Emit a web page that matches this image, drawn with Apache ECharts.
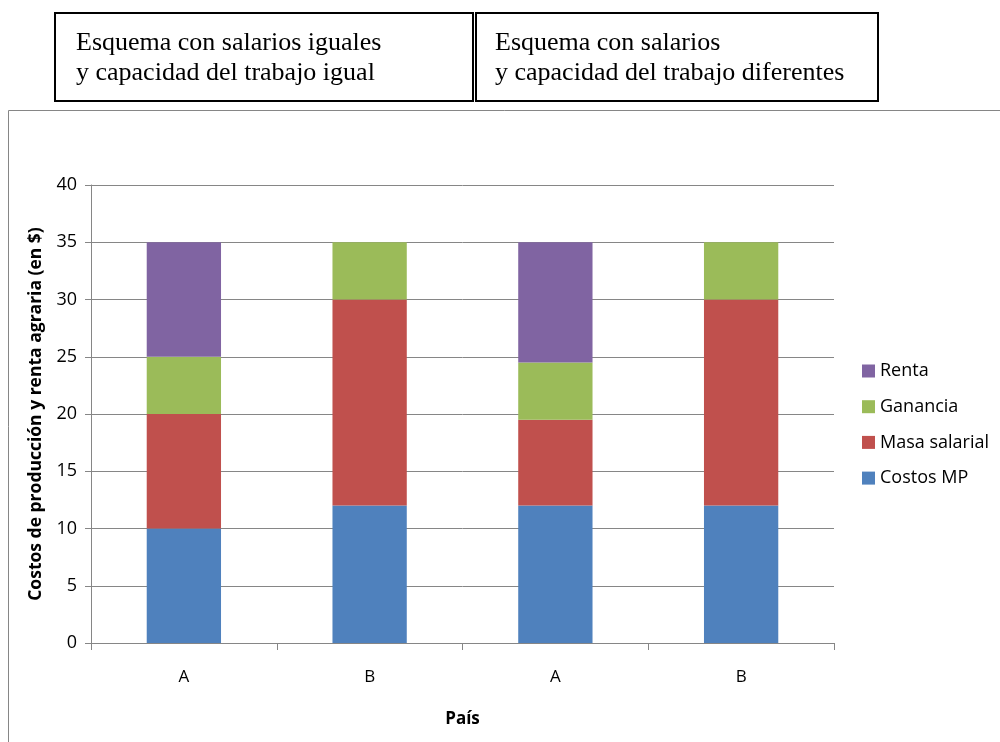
<!DOCTYPE html>
<html>
<head>
<meta charset="utf-8">
<script src="https://cdn.jsdelivr.net/npm/echarts@6/dist/echarts.min.js"></script>
<style>
  html, body { margin: 0; padding: 0; background: #fff; }
  #chart { width: 1000px; height: 742px; }
</style>
</head>
<body>
<div id="chart"></div>
<script>
// Countries in each scheme (first pair: equal wages, second pair: different wages)
const categories = ['A', 'B', 'A', 'B'];
const costosMP = [10, 12, 12, 12];
const masaSalarial = [10, 18, 7.5, 18];
const ganancia = [5, 5, 5, 5];
const renta = [10, 0, 10.5, 0];
const yTicks = { min: 0, max: 40, interval: 5 };

const uiFont = '"Open Sans", "Liberation Sans", sans-serif';
const serifFont = '"Liberation Serif", "DejaVu Serif", serif';

const chart = echarts.init(document.getElementById('chart'), null, { renderer: 'canvas' });

function seriesOf(name, data, color) {
  return {
    name: name,
    type: 'bar',
    stack: 'total',
    barWidth: '40%',
    data: data,
    itemStyle: { color: color },
    emphasis: { disabled: true }
  };
}

chart.setOption({
  animation: false,
  backgroundColor: '#fff',
  textStyle: { fontFamily: uiFont },
  grid: { left: 91, top: 185, width: 743, height: 458, containLabel: false },
  legend: {
    orient: 'vertical',
    left: 857,
    top: 357,
    itemWidth: 13,
    itemHeight: 13,
    itemGap: 17.7,
    icon: 'rect',
    textStyle: { fontSize: 18, color: '#000', fontFamily: uiFont },
    data: ['Renta', 'Ganancia', 'Masa salarial', 'Costos MP']
  },
  xAxis: {
    type: 'category',
    data: categories,
    name: 'País',
    nameLocation: 'middle',
    nameGap: 68,
    nameTextStyle: { fontSize: 17, fontWeight: 'bold', color: '#000' },
    axisLine: { lineStyle: { color: '#868686' } },
    axisTick: { show: true, length: 7, lineStyle: { color: '#868686' } },
    axisLabel: { fontSize: 17, color: '#000', margin: 26 }
  },
  yAxis: {
    type: 'value',
    min: yTicks.min,
    max: yTicks.max,
    interval: yTicks.interval,
    name: 'Costos de producción y renta agraria (en $)',
    nameLocation: 'middle',
    nameGap: 46,
    nameTextStyle: { fontSize: 17.5, fontWeight: 'bold', color: '#000' },
    axisLine: { show: true, lineStyle: { color: '#868686' } },
    axisTick: { show: true, length: 6, lineStyle: { color: '#868686' } },
    axisLabel: { fontSize: 18, color: '#000', margin: 14 },
    splitLine: { lineStyle: { color: '#868686' } }
  },
  series: [
    seriesOf('Costos MP', costosMP, '#4F81BD'),
    seriesOf('Masa salarial', masaSalarial, '#C0504D'),
    seriesOf('Ganancia', ganancia, '#9BBB59'),
    seriesOf('Renta', renta, '#8064A2')
  ],
  graphic: [
    {
      type: 'rect',
      shape: { x: 8.5, y: 110.5, width: 1100, height: 800 },
      style: { fill: 'none', stroke: '#868686', lineWidth: 1 },
      silent: true
    },
    {
      type: 'rect',
      shape: { x: 55, y: 13, width: 418, height: 88 },
      style: { fill: 'none', stroke: '#000', lineWidth: 2 },
      silent: true
    },
    {
      type: 'rect',
      shape: { x: 476, y: 13, width: 402, height: 88 },
      style: { fill: 'none', stroke: '#000', lineWidth: 2 },
      silent: true
    },
    {
      type: 'text',
      left: 76, top: 28,
      style: {
        text: 'Esquema con salarios iguales\ny capacidad del trabajo igual',
        font: '26px ' + serifFont, lineHeight: 30, fill: '#000'
      },
      silent: true
    },
    {
      type: 'text',
      left: 495, top: 28,
      style: {
        text: 'Esquema con salarios\ny capacidad del trabajo diferentes',
        font: '26px ' + serifFont, lineHeight: 30, fill: '#000'
      },
      silent: true
    }
  ]
});
</script>
</body>
</html>
